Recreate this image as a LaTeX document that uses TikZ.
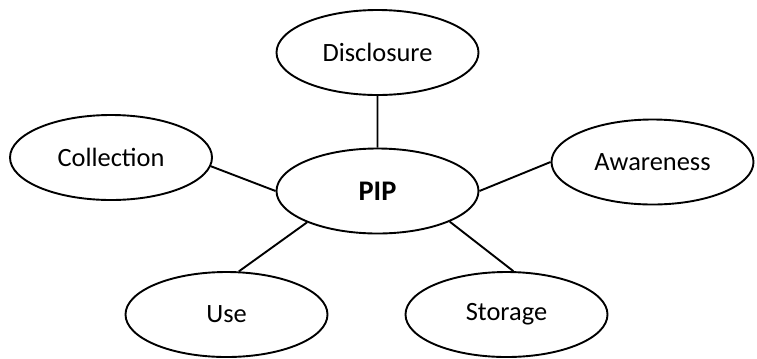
\documentclass[tikz,border=0pt]{standalone}
\usepackage{fontspec}
\setmainfont{Carlito}
\usetikzlibrary{shapes.geometric}
\begin{document}
\begin{tikzpicture}[x=1bp, y=-1bp,
    bubble/.style={draw, ellipse, line width=1.9bp, minimum width=202bp,
        minimum height=85bp, inner sep=0pt, font=\fontsize{26.5}{30}\selectfont},
    spoke/.style={line width=1.9bp}]
    \useasboundingbox (0,0) rectangle (757,358);
    \node[bubble, font=\fontsize{28.5}{32}\selectfont\bfseries]
        (pip) at (377.5,191) {PIP};
    \node[bubble] (disclosure) at (377.5,52.5) {Disclosure};
    \node[bubble] (collection) at (111,157.5) {Collection};
    \node[bubble] (awareness) at (652.5,162) {Awareness};
    \node[bubble] (use) at (226.5,314.5) {Use};
    \node[bubble] (storage) at (506.5,314.5) {Storage};
    \draw[spoke]
        (disclosure.south) -- (pip.north)
        (collection.-5) -- (pip.west)
        (awareness.west) -- (pip.east)
        (use.74) -- (pip.204)
        (storage.81) -- (pip.-23);
\end{tikzpicture}
\end{document}
